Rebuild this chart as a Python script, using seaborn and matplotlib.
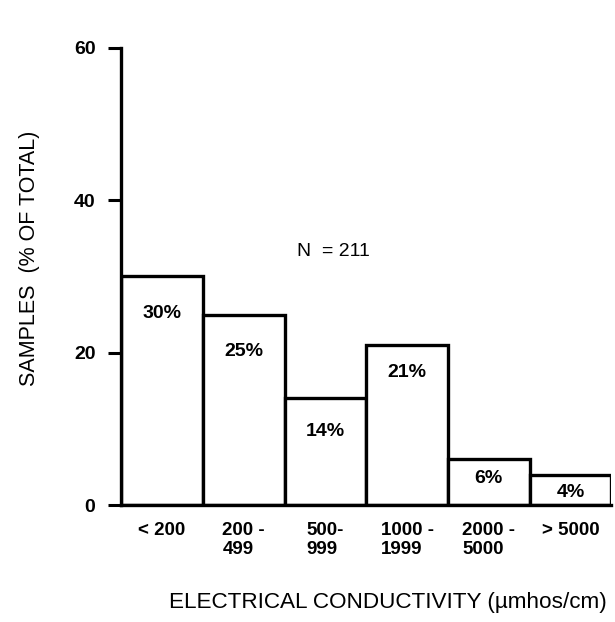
import matplotlib
matplotlib.use("Agg")
import matplotlib.pyplot as plt
import seaborn as sns
import pandas as pd

categories = ["< 200", "200 -\n499", "500-\n999", "1000 -\n1999", "2000 -\n5000", "> 5000"]
percent = [30, 25, 14, 21, 6, 4]
bar_labels = ["30%", "25%", "14%", "21%", "6%", "4%"]
y_ticks = [0, 20, 40, 60]
n_text = "N  = 211"

sns.set_style("white")
plt.rcParams['font.family'] = ['Liberation Sans', 'DejaVu Sans']
for k in ["text.color", "axes.labelcolor", "xtick.color", "ytick.color"]:
    plt.rcParams[k] = "black"

df = pd.DataFrame({"cat": categories, "pct": percent})

fig = plt.figure(figsize=(6.15, 6.22), dpi=100)
ax = fig.add_axes([0.197, 0.188, 0.797, 0.735])

sns.barplot(data=df, x="cat", y="pct", ax=ax, width=1.0, color="white",
            edgecolor="black", linewidth=2.4, saturation=1)

ax.set_ylim(0, 60)
ax.set_xlim(-0.5, 5.5)
ax.set_yticks(y_ticks)
ax.set_yticklabels([str(t) for t in y_ticks], fontsize=14, fontweight="bold")
ax.tick_params(axis="y", left=True, direction="out", length=9.5, width=2.2, pad=9)
ax.tick_params(axis="x", bottom=False, length=0, pad=12)
ax.set_xticks(range(len(categories)))
ax.set_xticklabels(categories, fontsize=13.5, fontweight="bold", linespacing=1.15,
                   multialignment="left")

for side in ["top", "right"]:
    ax.spines[side].set_visible(False)
for side in ["left", "bottom"]:
    ax.spines[side].set_linewidth(2.4)
    ax.spines[side].set_color("black")

offsets = [4.8, 4.8, 4.3, 3.6, 2.5, 2.3]
for i, (v, lab) in enumerate(zip(percent, bar_labels)):
    ax.text(i, v - offsets[i], lab, ha="center", va="center", fontsize=14, fontweight="bold")

ax.text(2.1, 33.3, n_text, ha="center", va="center", fontsize=14)

ax.set_ylabel("SAMPLES  (% OF TOTAL)", fontsize=15.5)
ax.set_xlabel("ELECTRICAL CONDUCTIVITY (\u00b5mhos/cm)", fontsize=16.2)
ax.yaxis.set_label_coords(-0.165, 0.54)
ax.xaxis.set_label_coords(0.544, -0.19)

fig.savefig("out.png", dpi=100)
